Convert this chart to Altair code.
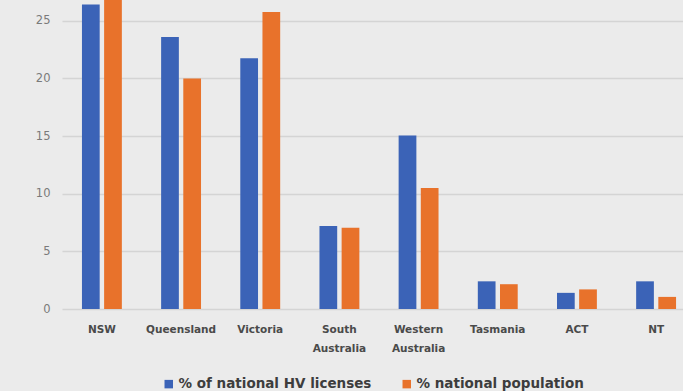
import altair as alt
import pandas as pd

states = ["NSW", "Queensland", "Victoria", "South Australia",
          "Western Australia", "Tasmania", "ACT", "NT"]
hv_licenses = [26.4, 23.6, 21.75, 7.2, 15.05, 2.4, 1.4, 2.4]
population = [31.9, 20.0, 25.75, 7.05, 10.5, 2.15, 1.7, 1.05]
series = ["% of national HV licenses", "% national population"]
colors = ["#3b63b7", "#e8722b"]
y_ticks = [0, 5, 10, 15, 20, 25]

rows = []
for s, a, b in zip(states, hv_licenses, population):
    rows.append({"state": s, "series": series[0], "value": a})
    rows.append({"state": s, "series": series[1], "value": b})
df = pd.DataFrame(rows)

bars = alt.Chart(df).mark_bar(clip=True).encode(
    x=alt.X(
        "state:N", sort=states, title=None,
        scale=alt.Scale(range=[0, 634], paddingInner=0.496, paddingOuter=0.252),
        axis=alt.Axis(
            labelAngle=0, domain=False, ticks=False,
            labelExpr="split(datum.label, ' ')",
            labelFont="DejaVu Sans", labelFontWeight="bold", labelFontSize=10.5,
            labelColor="#4a4a4a", labelPadding=15, labelLineHeight=19,
        ),
    ),
    xOffset=alt.XOffset("series:N", sort=series,
                        scale=alt.Scale(paddingInner=0.2)),
    y=alt.Y(
        "value:Q", title=None,
        scale=alt.Scale(domain=[0, 26.8], nice=False, zero=True),
        axis=alt.Axis(
            values=y_ticks, domain=False, ticks=False,
            labelFont="DejaVu Sans", labelFontSize=11.5, labelColor="#7a7a7a",
            labelPadding=12, gridColor="#d4d4d4", gridWidth=1.5,
        ),
    ),
    color=alt.Color(
        "series:N", sort=series, title=None,
        scale=alt.Scale(domain=series, range=colors),
        legend=alt.Legend(
            orient="none", legendX=100, legendY=377, direction="horizontal",
            symbolType="square", symbolSize=72, symbolStrokeWidth=0,
            labelFont="DejaVu Sans", labelFontWeight="bold", labelFontSize=13.5,
            labelColor="#3d3d3d", columnPadding=28, labelOffset=3,
            labelLimit=300,
        ),
    ),
)

chart = bars.properties(
    width=621, height=309,
    autosize=alt.AutoSizeParams(type="none"),
    padding={"left": 62, "top": 0, "right": 0, "bottom": 82},
    background="#ebebeb",
).configure_view(stroke=None)

chart.save("out.html", embed_options={"renderer": "svg", "actions": False})
